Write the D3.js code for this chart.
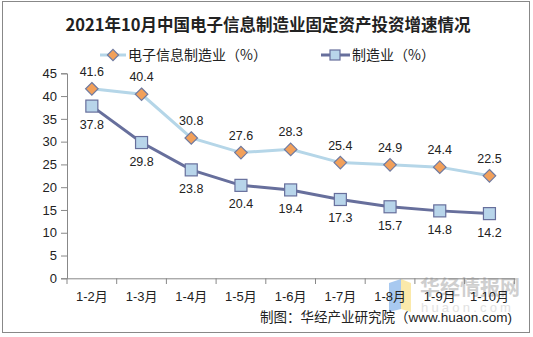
<!DOCTYPE html>
<html><head><meta charset="utf-8">
<script src="https://cdn.jsdelivr.net/npm/d3@7"></script>
<style>body{margin:0;background:#fff}svg{display:block}</style>
</head><body>
<script>
const categories = ["1-2月","1-3月","1-4月","1-5月","1-6月","1-7月","1-8月","1-9月","1-10月"];
const electronics = [41.6, 40.4, 30.8, 27.6, 28.3, 25.4, 24.9, 24.4, 22.5];
const manufacturing = [37.8, 29.8, 23.8, 20.4, 19.4, 17.3, 15.7, 14.8, 14.2];
const yTicks = [0,5,10,15,20,25,30,35,40,45];
const seriesNames = ["电子信息制造业（%）","制造业（%）"];
const titleText = "2021年10月中国电子信息制造业固定资产投资增速情况";
const sourceText = "制图：华经产业研究院（www.huaon.com)";

const W = 533, H = 337;
const svg = d3.select("body").append("svg").attr("width", W).attr("height", H);
const font = "'Liberation Sans', Arial, 'Noto Sans CJK SC', sans-serif";

svg.append("rect").attr("x",2.5).attr("y",1.5).attr("width",527).attr("height",331)
  .attr("fill","#fff").attr("stroke","#888").attr("stroke-width",1);

const x = d3.scaleBand().domain(categories).range([67, 514.3]);
const y = d3.scaleLinear().domain([0,45]).range([278.3, 73.3]);

// watermark
const wm = svg.append("g");
wm.append("path").attr("d","M389,283 L401,279 L401,309 L389,312 Z").attr("fill","#9ec3ee").attr("opacity",0.9);
wm.append("path").attr("d","M401,279 L411,283 L411,312 L401,309 Z").attr("fill","#fbe7a1").attr("opacity",0.9);
wm.append("text").attr("x",420).attr("y",295).attr("font-size",20).attr("font-weight","bold")
  .attr("font-family","'Noto Sans CJK SC', sans-serif").attr("fill","#cfcfcf").text("华经情报网");
wm.append("text").attr("x",421).attr("y",312).attr("font-size",13).attr("letter-spacing",3.2)
  .attr("font-family",font).attr("fill","#e2e2e2").text("huaon.com");

// title
svg.append("text").attr("x",268).attr("y",31).attr("text-anchor","middle")
  .attr("font-size",16.5).attr("font-weight","bold").attr("font-family","'Noto Sans CJK SC', serif")
  .attr("fill","#222").text(titleText);

// axes
const yAxis = svg.append("g").attr("transform","translate(67,0)")
  .call(d3.axisLeft(y).tickValues(yTicks).tickSize(6).tickPadding(4));
yAxis.select(".domain").attr("stroke","#888");
yAxis.selectAll(".tick line").attr("stroke","#888");
yAxis.selectAll("text").attr("font-size",13).attr("font-family",font).attr("fill","#222");

const xAxis = svg.append("g").attr("transform","translate(0,278.3)")
  .call(d3.axisBottom(x).tickSize(0).tickPadding(13));
xAxis.select(".domain").attr("stroke","#888");
xAxis.selectAll("text").attr("font-size",13).attr("font-family",font).attr("fill","#222");
// boundary ticks
const edges = categories.map(c => x(c)).concat([x.range()[1]]);
svg.append("g").selectAll("line").data(edges).join("line")
  .attr("x1",d=>d).attr("x2",d=>d).attr("y1",278.3).attr("y2",284).attr("stroke","#888");

const cx = c => x(c) + x.bandwidth()/2;
const line = d3.line().x((d,i)=>cx(categories[i])).y(d=>y(d));

// series 1
svg.append("path").datum(electronics).attr("d",line).attr("fill","none")
  .attr("stroke","#b5d6e8").attr("stroke-width",3);
// series 2
svg.append("path").datum(manufacturing).attr("d",line).attr("fill","none")
  .attr("stroke","#676f9c").attr("stroke-width",3);

svg.append("g").selectAll("rect").data(manufacturing).join("rect")
  .attr("x",(d,i)=>cx(categories[i])-6).attr("y",d=>y(d)-6).attr("width",12).attr("height",12)
  .attr("fill","#b8d5ea").attr("stroke","#676f9c").attr("stroke-width",1.2);

svg.append("g").selectAll("path").data(electronics).join("path")
  .attr("d",d3.symbol(d3.symbolDiamond2, 100))
  .attr("transform",(d,i)=>`translate(${cx(categories[i])},${y(d)})`)
  .attr("fill","#f2a05a").attr("stroke","#6f7aa0").attr("stroke-width",1.2);

// labels
svg.append("g").selectAll("text").data(electronics).join("text")
  .attr("x",(d,i)=>cx(categories[i])).attr("y",d=>y(d)-13).attr("text-anchor","middle")
  .attr("font-size",12.5).attr("font-family",font).attr("fill","#222").text(d=>d.toFixed(1));
svg.append("g").selectAll("text").data(manufacturing).join("text")
  .attr("x",(d,i)=>cx(categories[i])).attr("y",d=>y(d)+23).attr("text-anchor","middle")
  .attr("font-size",12.5).attr("font-family",font).attr("fill","#222").text(d=>d.toFixed(1));

// legend
const lg = svg.append("g");
lg.append("line").attr("x1",100).attr("x2",126).attr("y1",55).attr("y2",55).attr("stroke","#b5d6e8").attr("stroke-width",3);
lg.append("path").attr("d",d3.symbol(d3.symbolDiamond2,80)).attr("transform","translate(113,55)")
  .attr("fill","#f2a05a").attr("stroke","#6f7aa0").attr("stroke-width",1.2);
lg.append("text").attr("x",128).attr("y",60).attr("font-size",14).attr("font-family","'Noto Sans CJK SC', sans-serif")
  .attr("fill","#222").text(seriesNames[0]);
lg.append("line").attr("x1",321).attr("x2",350).attr("y1",55).attr("y2",55).attr("stroke","#676f9c").attr("stroke-width",3);
lg.append("rect").attr("x",330).attr("y",50).attr("width",10).attr("height",10)
  .attr("fill","#b8d5ea").attr("stroke","#676f9c").attr("stroke-width",1.2);
lg.append("text").attr("x",352).attr("y",60).attr("font-size",14).attr("font-family","'Noto Sans CJK SC', sans-serif")
  .attr("fill","#222").text(seriesNames[1]);

// source
svg.append("text").attr("x",512).attr("y",322).attr("text-anchor","end")
  .attr("font-size",13.5).attr("font-family","'Liberation Sans','Noto Sans CJK SC', sans-serif")
  .attr("fill","#222").text(sourceText);
</script>
</body></html>
